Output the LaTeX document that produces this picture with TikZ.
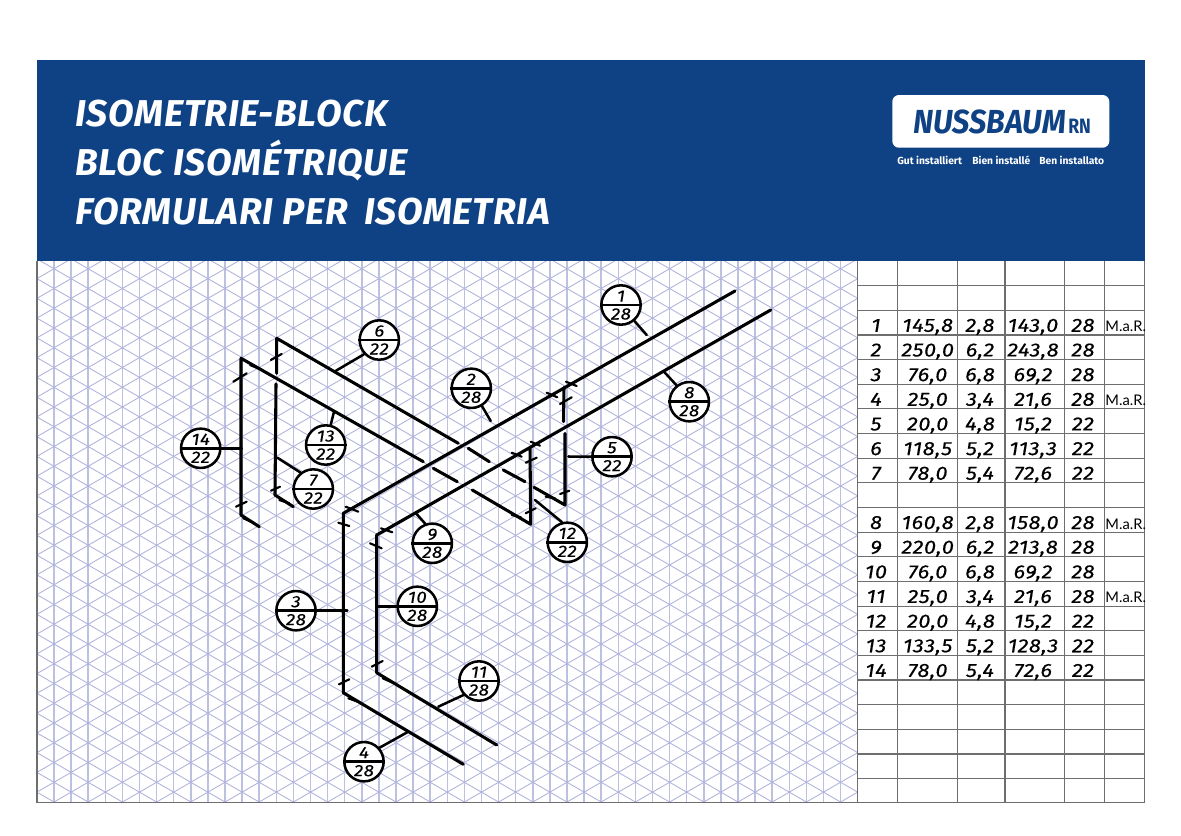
\documentclass[tikz,border=0pt]{standalone}
\usepackage{fontspec}
\setmainfont{Fira Sans}
\newfontfamily\titlefont[LetterSpace=2]{Fira Sans}
\newfontfamily\handfont[FakeBold=0.4,FakeStretch=1.14,LetterSpace=3]{Fira Sans}
\newfontfamily\logofont[FakeStretch=0.92]{Fira Sans}
\newfontfamily\rnfont[FakeStretch=0.85]{Fira Sans}
\newfontfamily\marfont{Lato}
\definecolor{nbblue}{HTML}{0F4285}
\definecolor{gridv}{HTML}{BDC1E1}
\definecolor{gridd}{HTML}{B0B3DC}
\definecolor{rule}{HTML}{6E6E6E}
\tikzset{
  griddiag/.style={draw=gridd,line width=0.65pt},
  gridvert/.style={draw=gridv,line width=1.15pt},
  tabrule/.style={draw=rule,line width=0.85pt},
  pipe/.style={draw=black,line width=2.3pt,line cap=round,line join=round},
  tick/.style={draw=black,line width=1.6pt,line cap=round},
  leader/.style={draw=black,line width=1.9pt,line cap=round},
  bubble/.style={circle,draw=black,line width=1.9pt,fill=white,minimum size=29.5pt,inner sep=0pt},
  divider/.style={draw=black,line width=1.9pt},
  hand/.style={anchor=base,inner sep=0pt,font=\handfont\itshape\fontsize{14.3}{14.3}\selectfont,text=black},
  bubhand/.style={anchor=base,inner sep=0pt,font=\handfont\itshape\fontsize{12.3}{12.3}\selectfont,text=black},
  mar/.style={anchor=base,inner sep=0pt,font=\marfont\fontsize{11}{11}\selectfont,text=black},
  titletext/.style={anchor=base west,inner sep=0pt,text=white,font=\titlefont\bfseries\itshape\fontsize{28}{28}\selectfont},
  slogan/.style={anchor=base west,inner sep=0pt,text=white,font=\bfseries\fontsize{7.7}{8}\selectfont},
}
% name, x, y, top, bottom
\newcommand{\bub}[5]{%
  \node[bubble] (#1) at (#2,#3) {};
  \draw[divider] (#1.west) -- (#1.east);
  \node[bubhand] (#1t) at (#2,#3-3.5) {#4};
  \node[bubhand] (#1b) at (#2,#3+14.5) {#5};
}
% row index, no, four values, remark
\newcommand{\trow}[7]{%
  \pgfmathsetmacro{\ry}{261+24.65*#1+21.5}
  \node[hand] (r#2a) at (876,\ry) {#2};
  \node[hand] (r#2b) at (927.7,\ry) {#3};
  \node[hand] (r#2c) at (980,\ry) {#4};
  \node[hand] (r#2d) at (1033,\ry) {#5};
  \node[hand] (r#2e) at (1083,\ry) {#6};
  \ifx\relax#7\relax\else\node[mar] (r#2f) at (1125.7,\ry) {#7};\fi
}
\begin{document}
\begin{tikzpicture}[x=0.75pt,y=-0.75pt]
\useasboundingbox (0,0) rectangle (1181,835);
\fill[white] (0,0) rectangle (1181,835);
% isometric grid
\begin{scope}
  \clip (37,261) rectangle (857.3,802.5);
  \foreach \k in {-1,...,48} {
    \draw[gridvert] ({54+17.1*\k},261) -- ({54+17.1*\k},803);
  }
  \foreach \k in {-25,...,52} {
    \draw[griddiag] (37,{802-19.75*\k-9.82}) -- (857.3,{802-19.75*\k+463.9});
    \draw[griddiag] (37,{802-19.75*\k+9.82}) -- (857.3,{802-19.75*\k-463.9});
  }
\end{scope}
% outer rules
\draw[tabrule] (37,261) -- (37,802.7) -- (1144.3,802.7) -- (1144.3,261);
% table
\foreach \x in {857.3,897.7,957.3,1005,1064.7,1104.3} {
  \draw[tabrule] (\x,261) -- (\x,802.7);
}
\foreach \k in {1,...,21} {
  \draw[tabrule] (857.3,{261+24.65*\k}) -- (1144.3,{261+24.65*\k});
}
% header
\fill[nbblue] (37,60) rectangle (1144.7,261);
\node[titletext] (t1) at (75,126) {ISOMETRIE-BLOCK};
\node[titletext] (t2) at (75,175) {BLOC ISOMÉTRIQUE};
\node[titletext] (t3) at (75,224.5) {FORMULARI PER\hspace{5pt} ISOMETRIA};
\fill[white,rounded corners=5pt] (892.3,95) rectangle (1109.3,147.7);
\node[anchor=base west,inner sep=0pt,text=nbblue,font=\logofont\bfseries\itshape\fontsize{25}{25}\selectfont] (logo) at (913,133) {NUSSBAUM};
\node[anchor=base west,inner sep=0pt,text=nbblue,font=\rnfont\bfseries\fontsize{15.6}{16}\selectfont] (rn) at (1068,133) {RN};
\node[slogan] (s1) at (897,164) {Gut installiert};
\node[slogan] (s2) at (972,164) {Bien installé};
\node[slogan] (s3) at (1039,164) {Ben installato};
% table values
\trow{2}{1}{145,8}{2,8}{143,0}{28}{M.a.R.}
\trow{3}{2}{250,0}{6,2}{243,8}{28}{}
\trow{4}{3}{76,0}{6,8}{69,2}{28}{}
\trow{5}{4}{25,0}{3,4}{21,6}{28}{M.a.R.}
\trow{6}{5}{20,0}{4,8}{15,2}{22}{}
\trow{7}{6}{118,5}{5,2}{113,3}{22}{}
\trow{8}{7}{78,0}{5,4}{72,6}{22}{}
\trow{10}{8}{160,8}{2,8}{158,0}{28}{M.a.R.}
\trow{11}{9}{220,0}{6,2}{213,8}{28}{}
\trow{12}{10}{76,0}{6,8}{69,2}{28}{}
\trow{13}{11}{25,0}{3,4}{21,6}{28}{M.a.R.}
\trow{14}{12}{20,0}{4,8}{15,2}{22}{}
\trow{15}{13}{133,5}{5,2}{128,3}{22}{}
\trow{16}{14}{78,0}{5,4}{72,6}{22}{}
% pipes
\draw[pipe] (259.3,526.7) -- (241,515) -- (241,358.3) -- (423.3,461.7);
\draw[pipe] (433.3,468.3) -- (457.3,481.7);
\draw[pipe] (472.3,490) -- (530.7,524.3) -- (530,448.3);
\draw[pipe] (276.7,373.3) -- (276.7,338.3) -- (458.3,443.3);
\draw[pipe] (468.3,448.3) -- (489.3,461.7);
\draw[pipe] (503.3,470) -- (525,481.7);
\draw[pipe] (534,487.3) -- (565,505) -- (565,433.3);
\draw[pipe] (563.5,421.7) -- (564,387.3);
\draw[pipe] (276,384) -- (275,495) -- (293.3,506.7);
\draw[pipe] (735,291) -- (343.3,513.3) -- (343.3,692.7) -- (463.3,764.3);
\draw[pipe] (770.7,310) -- (376.7,535) -- (376.7,672.7) -- (496.7,745);
% ticks
\draw[tick] (233.3,381.7) -- (246.7,373.3);
\draw[tick] (250,365) -- (260.7,369.3);
\draw[tick] (270.7,360) -- (281.7,354);
\draw[tick] (288.3,345.7) -- (299.3,350.7);
\draw[tick] (236,506.7) -- (246.7,501.7);
\draw[tick] (243.3,518.3) -- (253.3,522.7);
\draw[tick] (271,490.7) -- (280,486.7);
\draw[tick] (279.3,500) -- (289.3,503.3);
\draw[tick] (345.7,506.7) -- (358.3,511.7);
\draw[tick] (338.3,522.7) -- (349.3,526);
\draw[tick] (381,528.3) -- (392.3,532.3);
\draw[tick] (370,543.3) -- (381.7,548.3);
\draw[tick] (371.7,666.7) -- (382.7,661);
\draw[tick] (382.7,678.3) -- (392.7,682.7);
\draw[tick] (339,684.3) -- (349.3,679.3);
\draw[tick] (348.3,698.3) -- (359.3,702.3);
\draw[tick] (546.7,392.7) -- (557.3,397.3);
\draw[tick] (566,381.7) -- (576.7,386);
\draw[tick] (560,404) -- (571.7,397.3);
\draw[tick] (511.7,452.7) -- (521.7,456.7);
\draw[tick] (530.7,441.7) -- (540,445.7);
\draw[tick] (525.7,462.7) -- (536.7,457.7);
\draw[tick] (545.7,496.7) -- (555,498.3);
\draw[tick] (560,494) -- (569.3,490.7);
\draw[tick] (511.7,515) -- (521,517.3);
\draw[tick] (525.7,513.3) -- (535.7,508.3);
% leader ends
\coordinate (e1) at (646.7,335);
\coordinate (e2) at (490.7,421);
\coordinate (e3) at (347.3,610.7);
\coordinate (e4) at (408.3,731.7);
\coordinate (e5) at (568.3,456.5);
\coordinate (e6) at (336,370.7);
\coordinate (e7) at (277.3,457.7);
\coordinate (e8) at (664,371.7);
\coordinate (e9) at (416,513.3);
\coordinate (e10) at (378.3,606.3);
\coordinate (e11) at (438.3,706.7);
\coordinate (e12) at (535,500);
\coordinate (e13) at (334,411.7);
\coordinate (e14) at (241.7,448.3);
% bubbles
\bub{b1}{621}{305}{1}{28}
\bub{b2}{471.3}{388.3}{2}{28}
\bub{b3}{296}{610.7}{3}{28}
\bub{b4}{364}{761.7}{4}{28}
\bub{b5}{612}{456.7}{5}{22}
\bub{b6}{379.3}{340}{6}{22}
\bub{b7}{313.3}{489}{7}{22}
\bub{b8}{689.3}{401.7}{8}{28}
\bub{b9}{432.3}{543.3}{9}{28}
\bub{b10}{417.3}{606.3}{10}{28}
\bub{b11}{479}{681}{11}{28}
\bub{b12}{567.3}{542.3}{12}{22}
\bub{b13}{325.7}{445}{13}{22}
\bub{b14}{200.7}{448.3}{14}{22}
% leaders
\foreach \i/\a in {1/-50,2/-59,3/0,4/42,5/180,6/223,7/128,8/128,9/110,10/180,11/222,12/105,13/76,14/0} {
  \draw[leader] (b\i.\a) -- (e\i);
}
\end{tikzpicture}
\end{document}
